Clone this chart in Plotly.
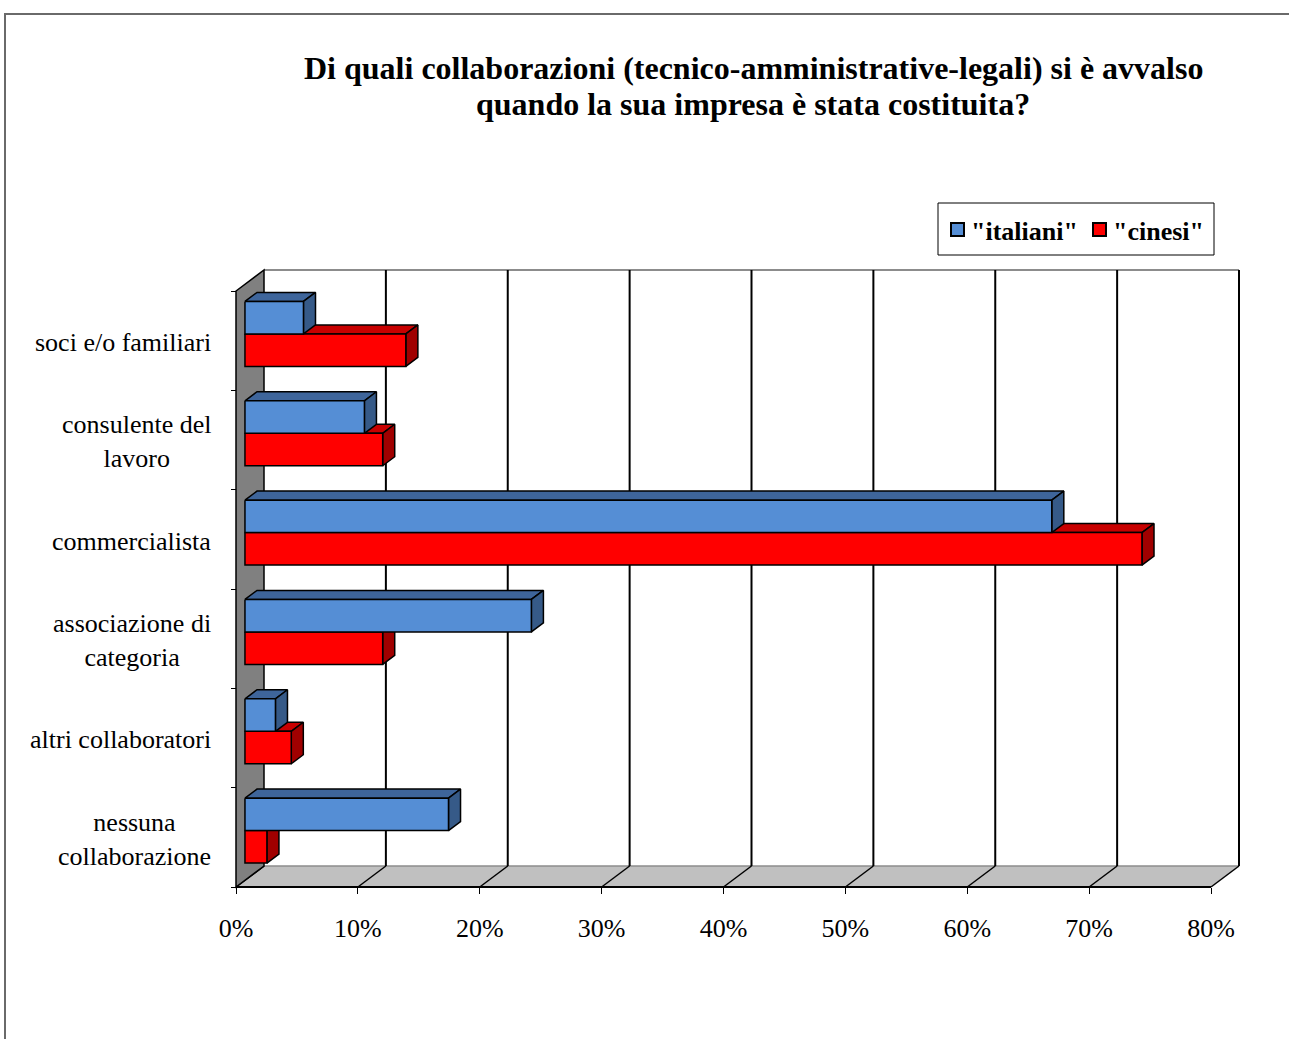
import plotly.graph_objects as go

# ---- data -------------------------------------------------------------
categories = [
    "soci e/o familiari",
    "consulente del<br>lavoro",
    "commercialista",
    "associazione di<br>categoria",
    "altri collaboratori",
    "nessuna<br>collaborazione",
]
italiani = [4.8, 9.8, 66.2, 23.5, 2.5, 16.7]
cinesi = [13.2, 11.3, 73.6, 11.3, 3.8, 1.8]
series_names = ['"italiani"', '"cinesi"']
x_ticks = [0, 10, 20, 30, 40, 50, 60, 70, 80]
title_lines = [
    "Di quali collaborazioni (tecnico-amministrative-legali) si è avvalso",
    "quando la sua impresa è stata costituita?",
]

# ---- geometry of the pseudo-3D box ------------------------------------
W, H = 1289, 1039
PL, PR, PT, PB = 220, 1259, 258, 897       # plotting area in pixels
X0_PX, Y0_PX = 236, 291                     # front-plane origin (0 %, top of first band)
PX_PER_PCT = 975 / 80
PX_PER_CAT = 596 / 6
X_MAX = 80

DEPTH_DX = 28 / PX_PER_PCT                  # full depth, in % units
DEPTH_DY = -21 / PX_PER_CAT                 # full depth, in category units (up)
D_FRONT, D_BACK = 0.32, 0.75                # depth slice occupied by the bars
BAR_H = 0.327                               # bar thickness in category units

x_range = [(PL - X0_PX) / PX_PER_PCT, (PR - X0_PX) / PX_PER_PCT]
y_range = [(PB - Y0_PX) / PX_PER_CAT, (PT - Y0_PX) / PX_PER_CAT]
n_cat = len(categories)

SERIF = "Liberation Serif, Times New Roman, serif"

BLUE = dict(front="#558ED5", top="#3E659B", side="#365A88")
RED = dict(front="#FF0000", top="#C80000", side="#A00000")


def px_x(px):
    return (px - PL) / (PR - PL)


def px_y(py):
    return (PB - py) / (PB - PT)


def bar_faces(values, upper):
    """Polygons (front, top, side) for one series, separated by None."""
    faces = {"front": ([], []), "top": ([], []), "side": ([], [])}
    bdx = (D_BACK - D_FRONT) * DEPTH_DX
    bdy = (D_BACK - D_FRONT) * DEPTH_DY
    for i, v in enumerate(values):
        c = i + 0.5 + D_FRONT * DEPTH_DY
        y_top, y_bot = (c - BAR_H, c) if upper else (c, c + BAR_H)
        x0 = D_FRONT * DEPTH_DX
        x1 = x0 + v
        polys = {
            "front": ([x0, x1, x1, x0, x0], [y_top, y_top, y_bot, y_bot, y_top]),
            "top": ([x0, x1, x1 + bdx, x0 + bdx, x0],
                    [y_top, y_top, y_top + bdy, y_top + bdy, y_top]),
            "side": ([x1, x1 + bdx, x1 + bdx, x1, x1],
                     [y_top, y_top + bdy, y_bot + bdy, y_bot, y_top]),
        }
        for k, (xs, ys) in polys.items():
            faces[k][0].extend(xs + [None])
            faces[k][1].extend(ys + [None])
    return faces


fig = go.Figure()

# lower series first, upper series drawn over it
for values, colors, upper, name in [(cinesi, RED, False, series_names[1]),
                                    (italiani, BLUE, True, series_names[0])]:
    faces = bar_faces(values, upper)
    for k in ("top", "side", "front"):
        xs, ys = faces[k]
        fig.add_trace(go.Scatter(
            x=xs, y=ys, mode="lines", fill="toself",
            fillcolor=colors[k], line=dict(color="black", width=1.5),
            name=name, showlegend=False, hoverinfo="skip",
        ))

shapes = []

# back wall top edge
shapes.append(dict(type="line", xref="x", yref="y", layer="below",
                   x0=DEPTH_DX, x1=X_MAX + DEPTH_DX, y0=DEPTH_DY, y1=DEPTH_DY,
                   line=dict(color="#8c8c8c", width=2)))
# floor
shapes.append(dict(type="path", xref="x", yref="y", layer="below",
                   path=(f"M0,{n_cat} L{X_MAX},{n_cat} L{X_MAX + DEPTH_DX},{n_cat + DEPTH_DY} "
                         f"L{DEPTH_DX},{n_cat + DEPTH_DY} Z"),
                   fillcolor="#C0C0C0", line=dict(width=0)))
shapes.append(dict(type="line", xref="x", yref="y", layer="below",
                   x0=DEPTH_DX, x1=X_MAX + DEPTH_DX, y0=n_cat + DEPTH_DY, y1=n_cat + DEPTH_DY,
                   line=dict(color="#8c8c8c", width=1.5)))
# vertical gridlines on the back wall and their floor diagonals
for t in x_ticks:
    if t > 0:
        shapes.append(dict(type="line", xref="x", yref="y", layer="below",
                           x0=t + DEPTH_DX, x1=t + DEPTH_DX, y0=DEPTH_DY, y1=n_cat + DEPTH_DY,
                           line=dict(color="black", width=2)))
    shapes.append(dict(type="line", xref="x", yref="y", layer="below",
                       x0=t, x1=t + DEPTH_DX, y0=n_cat, y1=n_cat + DEPTH_DY,
                       line=dict(color="black", width=1.5)))
# floor front edge (category axis base)
shapes.append(dict(type="line", xref="x", yref="y", layer="below",
                   x0=0, x1=X_MAX, y0=n_cat, y1=n_cat,
                   line=dict(color="black", width=2)))
# left side wall
shapes.append(dict(type="path", xref="x", yref="y", layer="below",
                   path=(f"M0,{n_cat} L0,0 L{DEPTH_DX},{DEPTH_DY} "
                         f"L{DEPTH_DX},{n_cat + DEPTH_DY} Z"),
                   fillcolor="#808080", line=dict(color="black", width=1.5)))

# outer chart frame
shapes.append(dict(type="rect", xref="paper", yref="paper", layer="below",
                   x0=px_x(5), x1=px_x(1300), y0=px_y(14), y1=px_y(1050),
                   line=dict(color="#6a6a6a", width=2), fillcolor="rgba(0,0,0,0)"))

# legend box and swatches
shapes.append(dict(type="rect", xref="paper", yref="paper",
                   x0=px_x(938), x1=px_x(1214), y0=px_y(203), y1=px_y(255),
                   line=dict(color="black", width=1), fillcolor="white"))
for left, colors in [(951, BLUE), (1093, RED)]:
    shapes.append(dict(type="rect", xref="paper", yref="paper",
                       x0=px_x(left), x1=px_x(left + 13), y0=px_y(223), y1=px_y(236),
                       line=dict(color="black", width=2), fillcolor=colors["front"]))

annotations = []
for left, name in [(969, series_names[0]), (1111, series_names[1])]:
    annotations.append(dict(xref="paper", yref="paper", x=px_x(left), y=px_y(231),
                            xanchor="left", yanchor="middle", showarrow=False,
                            text=f"<b>{name}</b>",
                            font=dict(family=SERIF, size=26, color="black")))

# two-line bold title
for line, yc in zip(title_lines, [68, 104]):
    annotations.append(dict(xref="paper", yref="paper", x=px_x(753), y=px_y(yc),
                            xanchor="center", yanchor="middle", showarrow=False,
                            text=f"<b>{line}</b>",
                            font=dict(family=SERIF, size=32, color="black")))

# category labels, centred lines, right edge near the wall
for i, cat in enumerate(categories):
    annotations.append(dict(xref="x", yref="y", x=0, y=i + 0.52, xshift=-23,
                            xanchor="right", yanchor="middle", align="center",
                            showarrow=False, text=cat,
                            font=dict(family=SERIF, size=26, color="black")))

fig.update_layout(
    width=W, height=H,
    margin=dict(l=PL, r=W - PR, t=PT, b=H - PB, pad=0),
    paper_bgcolor="white", plot_bgcolor="white",
    showlegend=False,
    xaxis=dict(
        range=x_range, domain=[0, 1], anchor="free", position=px_y(887),
        tickvals=x_ticks, ticktext=[f"{t}%" for t in x_ticks],
        ticks="outside", ticklen=6, tickcolor="black", tickwidth=1,
        showgrid=False, zeroline=False, showline=False,
        tickfont=dict(family=SERIF, size=26, color="black"),
        ticklabelstandoff=12,
    ),
    yaxis=dict(
        range=y_range, domain=[0, 1], anchor="free", position=px_x(236),
        tickvals=list(range(n_cat + 1)), showticklabels=False,
        ticks="outside", ticklen=5, tickcolor="black", tickwidth=1,
        showgrid=False, zeroline=False, showline=False,
    ),
    shapes=shapes,
    annotations=annotations,
)

fig.write_html("out.html")
